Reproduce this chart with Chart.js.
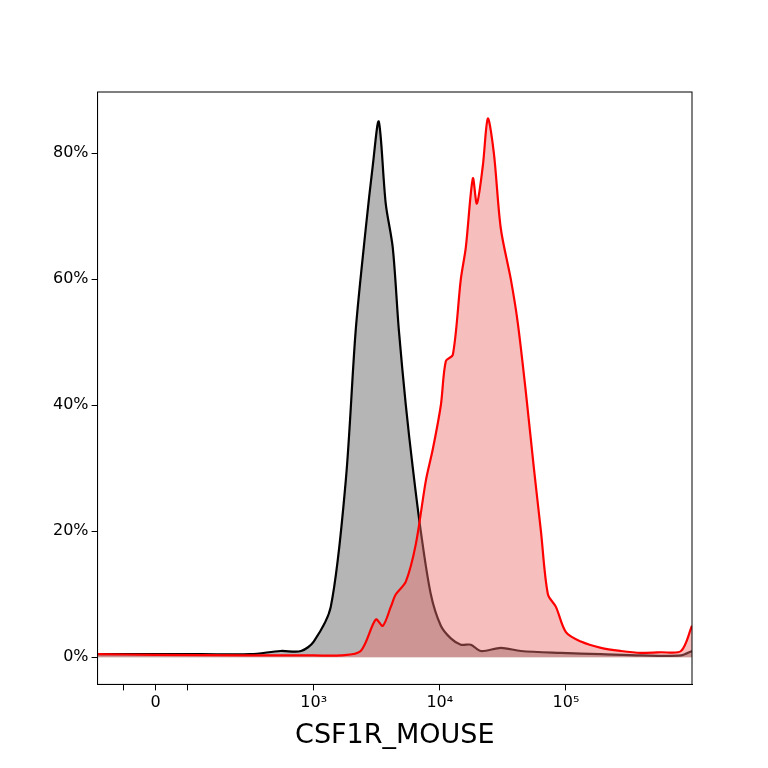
<!DOCTYPE html>
<html><head><meta charset="utf-8">
<script src="https://cdn.jsdelivr.net/npm/chart.js@4"></script>
<style>body{margin:0;background:#fff}</style>
</head><body>
<canvas id="c" width="768" height="768"></canvas>
<script>
// fluorescence intensity and % of max for each sample
const isoX = [-367,0,285,600,790,920,1000,1365,1795,2155,2585,2940,3280,3725,4235,4730,5375,6110,7065,8485,10190,12225,14680,17620,21150,30480,43950,91240,189600,393600,818000,1000000];
const isoY = [0.5,0.5,0.5,0.5,1,1,2.5,8,28,52,68,78,85,72,65,52,40,30,20,10,5,3,2,2,1,1.5,1,0.7,0.5,0.3,0.3,1];
const csfX = [-367,0,600,1000,1637,2360,3105,3530,4085,4480,5375,6460,7745,8795,10190,11170,12690,14680,16070,18290,19670,21940,24040,26830,30480,36560,41570,48170,55720,63400,71980,83340,100000,131500,189600,273600,393600,567600,818000,1000000];
const csfY = [0.5,0.4,0.3,0.3,0.3,1,6,5,8,10,12,18,28,33,40,47,48,60,65,76,72,78,85.5,80,68,60,53,42,30,20,10,8,4,2.5,1.5,1,0.7,0.8,1,5];
const majorTicks = [0,1000,10000,100000];
const minorTicks = [-200,200];
const yTicks = [0,20,40,60,80];

// biexponential-like display transform: linear below 1000, log above
function tf(v){ return v>=1000 ? Math.log10(v) : 1.746 + v/1000*1.254; }
function pts(xs,ys){ return xs.map((v,i)=>({x:tf(v),y:ys[i]})); }
const sup = {3:'³',4:'⁴',5:'⁵'};

new Chart(document.getElementById('c'),{
  type:'line',
  data:{datasets:[
    {data:pts(csfX,csfY),borderColor:'#ff0000',backgroundColor:'rgba(238,110,110,0.45)',fill:'origin',borderWidth:2.2,pointRadius:0,tension:0.3},
    {data:pts(isoX,isoY),borderColor:'#000',backgroundColor:'rgba(120,120,120,0.55)',fill:'origin',borderWidth:2.2,pointRadius:0,tension:0.3}
  ]},
  options:{
    responsive:false,animation:false,
    layout:{padding:{left:50,right:76,top:92,bottom:12}},
    plugins:{legend:{display:false},tooltip:{enabled:false}},
    scales:{
      x:{type:'linear',min:tf(-367),max:6,
        afterBuildTicks:s=>{s.ticks=majorTicks.concat(minorTicks).map(v=>({value:tf(v)}));},
        ticks:{color:'#000',font:{size:16,family:'DejaVu Sans'},autoSkip:false,maxRotation:0,
          callback:(val)=>{
            const m=majorTicks.find(v=>Math.abs(tf(v)-val)<1e-6);
            if(m===undefined) return '';
            return m===0?'0':'10'+sup[Math.round(Math.log10(m))];
          }},
        grid:{display:true,drawOnChartArea:false,drawTicks:true,tickLength:6,tickColor:'#000'},
        border:{color:'#000'},
        title:{display:true,text:'CSF1R_MOUSE',color:'#000',font:{size:27,family:'DejaVu Sans'}}
      },
      y:{min:-4.3,max:89.7,
        afterBuildTicks:s=>{s.ticks=yTicks.map(v=>({value:v}));},
        ticks:{color:'#000',font:{size:16,family:'DejaVu Sans'},callback:v=>v+'%'},
        grid:{display:true,drawOnChartArea:false,tickLength:6,tickColor:'#000'},
        border:{color:'#000'}
      }
    }
  },
  plugins:[{id:'box',afterDraw(c){const a=c.chartArea,x=c.ctx;x.save();x.strokeStyle='#000';x.lineWidth=1;x.strokeRect(a.left,a.top,a.right-a.left,a.bottom-a.top);x.restore();}}]
});
</script>
</body></html>
